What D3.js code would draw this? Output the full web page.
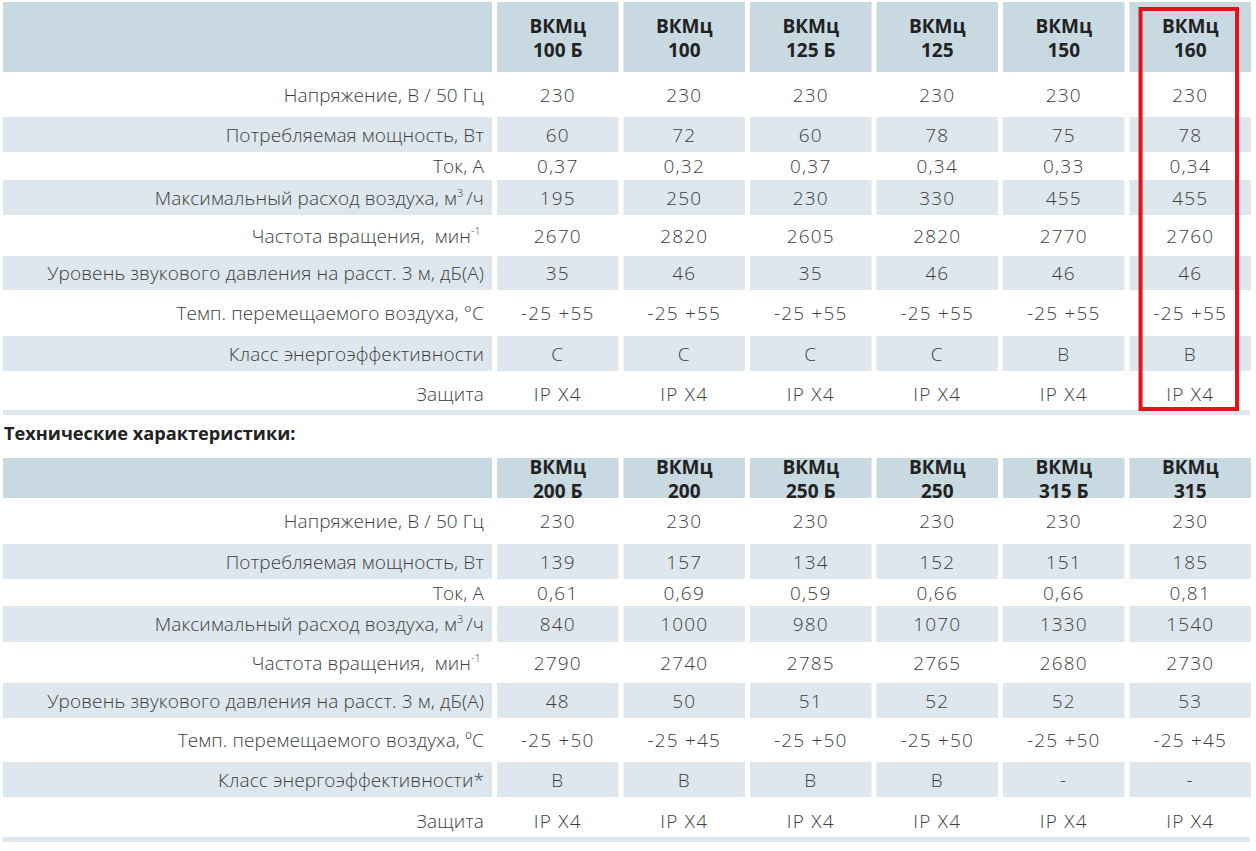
<!DOCTYPE html>
<html><head><meta charset="utf-8">
<script src="https://cdn.jsdelivr.net/npm/d3@7"></script>
<style>body{margin:0;background:#fff}svg{display:block}text{white-space:pre}</style>
</head><body>
<svg id="c" width="1256" height="851"></svg>
<script>
// ---------- data ----------
const models1 = [["ВКМц","100 Б"],["ВКМц","100"],["ВКМц","125 Б"],["ВКМц","125"],["ВКМц","150"],["ВКМц","160"]];
const models2 = [["ВКМц","200 Б"],["ВКМц","200"],["ВКМц","250 Б"],["ВКМц","250"],["ВКМц","315 Б"],["ВКМц","315"]];
const labels1 = ["Напряжение, В / 50 Гц","Потребляемая мощность, Вт","Ток, А","Максимальный расход воздуха, м|3|/ч","Частота вращения,  мин|-1|","Уровень звукового давления на расст. 3 м, дБ(А)","Темп. перемещаемого воздуха, °C","Класс энергоэффективности","Защита"];
const labels2 = ["Напряжение, В / 50 Гц","Потребляемая мощность, Вт","Ток, А","Максимальный расход воздуха, м|3|/ч","Частота вращения,  мин|-1|","Уровень звукового давления на расст. 3 м, дБ(А)","Темп. перемещаемого воздуха, ºC","Класс энергоэффективности*","Защита"];
const voltage1 = ["230","230","230","230","230","230"];
const power1   = ["60","72","60","78","75","78"];
const current1 = ["0,37","0,32","0,37","0,34","0,33","0,34"];
const airflow1 = ["195","250","230","330","455","455"];
const speed1   = ["2670","2820","2605","2820","2770","2760"];
const noise1   = ["35","46","35","46","46","46"];
const temp1    = ["-25 +55","-25 +55","-25 +55","-25 +55","-25 +55","-25 +55"];
const energy1  = ["C","C","C","C","B","B"];
const protect1 = ["IP X4","IP X4","IP X4","IP X4","IP X4","IP X4"];
const voltage2 = ["230","230","230","230","230","230"];
const power2   = ["139","157","134","152","151","185"];
const current2 = ["0,61","0,69","0,59","0,66","0,66","0,81"];
const airflow2 = ["840","1000","980","1070","1330","1540"];
const speed2   = ["2790","2740","2785","2765","2680","2730"];
const noise2   = ["48","50","51","52","52","53"];
const temp2    = ["-25 +50","-25 +45","-25 +50","-25 +50","-25 +50","-25 +45"];
const energy2  = ["B","B","B","B","-","-"];
const protect2 = ["IP X4","IP X4","IP X4","IP X4","IP X4","IP X4"];
const title2 = "Технические характеристики:";
const highlightIndex = 5;

// ---------- layout ----------
const svg = d3.select("#c");
const HEAD = "#c9d9e2", SHADE = "#dee7ed", TXT = "#3d3d3d", HTXT = "#222";
const FONT = "'Open Sans', sans-serif";
const x = d3.scaleBand().domain(d3.range(6)).range([497, 1251]).paddingInner(5/126);
const labelX0 = 3, labelX1 = 492, labelRight = 484;

function drawTable(g, models, labels, rows, edges, head) {
  g.append("rect").attr("x", labelX0).attr("y", head.top).attr("width", labelX1 - labelX0).attr("height", edges[0] - head.top).attr("fill", HEAD);
  g.selectAll("rect.h").data(models).join("rect").attr("class","h")
    .attr("x", (d,i) => x(i)).attr("y", head.top).attr("width", x.bandwidth()).attr("height", edges[0] - head.top).attr("fill", HEAD);
  g.selectAll("text.h").data(models).join("text").attr("class","h")
    .attr("x", (d,i) => x(i) + x.bandwidth()/2).attr("y", head.top + head.b1)
    .attr("text-anchor","middle").attr("font-family", FONT).attr("font-weight", 700).attr("font-size", 19).attr("fill", HTXT)
    .each(function(d){
      const t = d3.select(this);
      t.append("tspan").attr("x", +t.attr("x")).text(d[0]);
      t.append("tspan").attr("x", +t.attr("x")).attr("dy", 24).text(d[1]);
    });
  rows.forEach((vals, r) => {
    const y0 = edges[r], y1 = edges[r+1];
    const cy = (y0 + y1)/2 + (r === rows.length - 1 ? 3.5 : 0);
    if (r % 2 === 1) {
      g.append("rect").attr("x", labelX0).attr("y", y0).attr("width", labelX1 - labelX0).attr("height", y1 - y0).attr("fill", SHADE);
      g.selectAll(null).data(vals).join("rect")
        .attr("x", (d,i) => x(i)).attr("y", y0).attr("width", x.bandwidth()).attr("height", y1 - y0).attr("fill", SHADE);
    }
    const lab = labels[r].split("|");
    const lt = g.append("text").attr("x", labelRight).attr("y", cy + 7).attr("text-anchor","end")
      .attr("font-family", FONT).attr("font-weight", 300).attr("font-size", 19).attr("fill", TXT)
      .attr("letter-spacing", 0.12);
    lt.append("tspan").text(lab[0]);
    if (lab[1]) {
      lt.append("tspan").attr("font-size", 11).attr("dy", -8).text(lab[1] + " ");
      lt.append("tspan").attr("dy", 8).text(lab[2]);
    }
    g.selectAll(null).data(vals).join("text")
      .attr("x", (d,i) => x(i) + x.bandwidth()/2).attr("y", cy + 7).attr("text-anchor","middle")
      .attr("font-family", FONT).attr("font-weight", 300).attr("font-size", 19).attr("fill", TXT)
      .attr("letter-spacing", 1.2).text(d => d);
  });
  const last = edges[edges.length-1];
  g.append("rect").attr("x", labelX0).attr("y", last).attr("width", x.range()[1] - labelX0 - 1).attr("height", 5).attr("fill", SHADE);
}

const rows1 = [voltage1, power1, current1, airflow1, speed1, noise1, temp1, energy1, protect1];
const rows2 = [voltage2, power2, current2, airflow2, speed2, noise2, temp2, energy2, protect2];

drawTable(svg.append("g"), models1, labels1, rows1, [72,117,152,180,215,256,290,336,371,410], {top: 2, b1: 31});
drawTable(svg.append("g"), models2, labels2, rows2, [498,544,579,606,642,683,718,762,797,837], {top: 458, b1: 16});

svg.append("text").attr("x", 4).attr("y", 440).attr("font-family", FONT).attr("font-weight", 700)
  .attr("font-size", 18.2).attr("fill", HTXT).text(title2);

svg.append("rect").attr("x", x(highlightIndex) + 11).attr("y", 9)
  .attr("width", x.bandwidth() - 25).attr("height", 400)
  .attr("fill", "none").attr("stroke", "#e3131b").attr("stroke-width", 4);
</script>
</body></html>
